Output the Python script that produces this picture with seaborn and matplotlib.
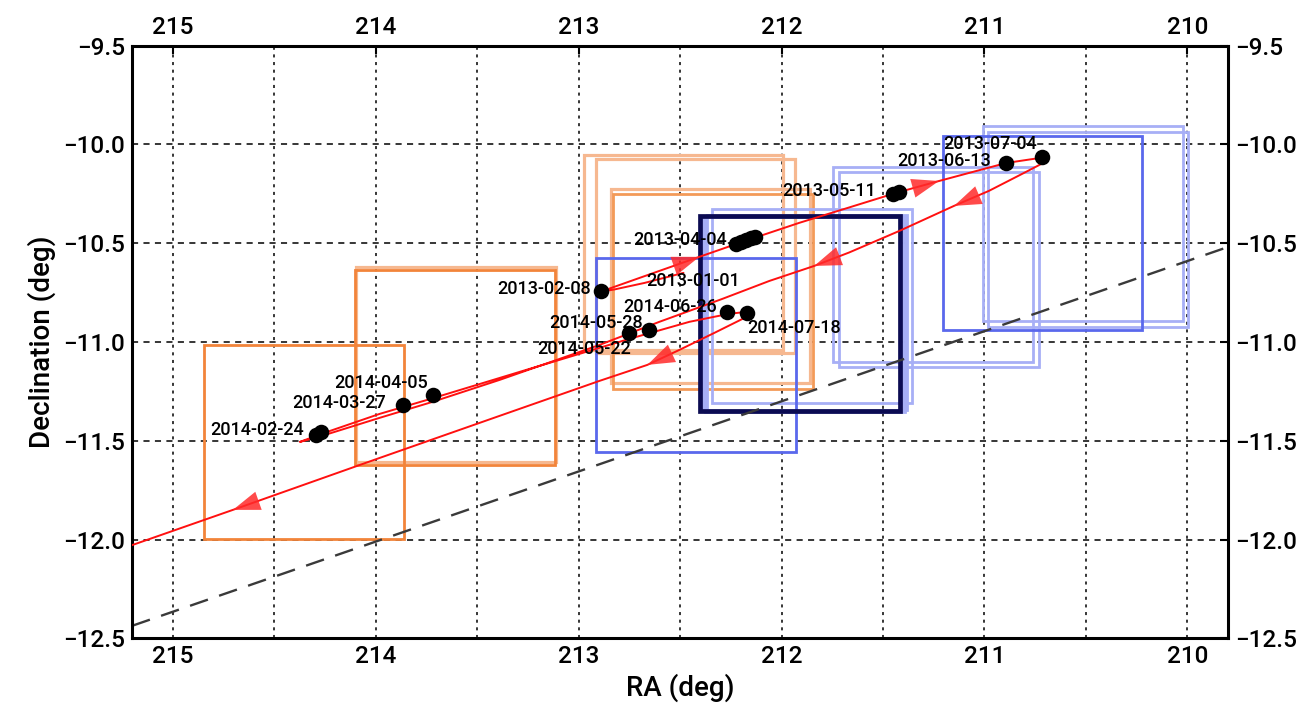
import matplotlib
matplotlib.use("Agg")
import matplotlib.pyplot as plt
from matplotlib.patches import Rectangle
from matplotlib.ticker import MultipleLocator
import pandas as pd
import seaborn as sns

# ---- predicted sky track (RA, Dec in deg), starting 2013-01-01 ----
track_ra = [212.483, 212.675, 212.823, 212.892, 212.838, 212.651, 212.405, 212.178,
            211.913, 211.667, 211.435, 211.224, 210.894, 210.712, 210.682, 210.702,
            210.805, 210.978, 211.150, 211.420, 211.667, 211.839, 212.060, 212.292,
            212.602, 212.897, 213.389, 213.719, 213.980, 214.226, 214.373, 214.275,
            213.980, 213.719, 213.241, 212.749, 212.454, 212.262, 212.178, 212.149,
            212.188, 212.331, 212.503, 212.661, 212.897, 213.389, 213.980, 214.703,
            215.210]
track_dec = [-10.650, -10.701, -10.734, -10.746, -10.726, -10.658, -10.569, -10.488,
             -10.397, -10.319, -10.245, -10.185, -10.094, -10.066, -10.071, -10.089,
             -10.144, -10.235, -10.311, -10.438, -10.547, -10.615, -10.691, -10.782,
             -10.898, -11.015, -11.192, -11.303, -11.384, -11.463, -11.506, -11.468,
             -11.364, -11.285, -11.136, -10.984, -10.898, -10.858, -10.848, -10.853,
             -10.881, -10.954, -11.040, -11.116, -11.197, -11.374, -11.587, -11.850,
             -12.032]
track_start = "2013-01-01"
# track vertices that carry a direction arrow
arrow_tips = [6, 11, 18, 21, 43, 47]

# ---- observed positions ----
obs_date = ["2013-02-08",
            "2013-04-04", "2013-04-04", "2013-04-04", "2013-04-04", "2013-04-04",
            "2013-05-11", "2013-05-11", "2013-06-13", "2013-07-04",
            "2014-02-24", "2014-02-24", "2014-03-27", "2014-04-05",
            "2014-05-22", "2014-05-28", "2014-06-26", "2014-07-18"]
obs_ra = [212.887,
          212.223, 212.198, 212.174, 212.149, 212.129,
          211.450, 211.420, 210.894, 210.717,
          214.294, 214.270, 213.866, 213.719,
          212.749, 212.651, 212.267, 212.168]
obs_dec = [-10.741,
           -10.504, -10.494, -10.483, -10.473, -10.466,
           -10.251, -10.240, -10.094, -10.063,
           -11.470, -11.455, -11.318, -11.268,
           -10.954, -10.939, -10.848, -10.853]

# ---- camera fields (centre RA, Dec) ----
field_ra = [214.354, 213.603, 213.608, 212.483, 212.424, 212.350, 212.338,
            212.420, 211.849, 211.893, 211.883, 211.873, 211.908,
            211.253, 211.224, 210.714, 210.515, 210.492]
field_dec = [-11.506, -11.114, -11.129, -10.547, -10.564, -10.716, -10.744,
             -11.065, -10.817, -10.855, -10.861, -10.851, -10.855,
             -10.607, -10.632, -10.448, -10.400, -10.430]
field_kind = ["orange", "light orange", "orange", "light orange", "light orange",
              "light orange", "mid orange",
              "blue", "light blue", "light blue", "light blue", "light blue", "navy",
              "light blue", "light blue", "blue", "light blue", "light blue"]

# ---- reference great circle ----
ref_ra = [215.2, 209.8]
ref_dec = [-12.437, -10.519]

# ---- styling ----
FIELD_W, FIELD_H = 0.985, 0.985
kind_style = {
    "light orange": dict(color="#f6b890", lw=2.3, z=1),
    "mid orange": dict(color="#f39a58", lw=2.0, z=1.2),
    "orange": dict(color="#f2843a", lw=2.0, z=1.3),
    "light blue": dict(color="#a7aff6", lw=2.0, z=1.5),
    "blue": dict(color="#5a68ec", lw=2.0, z=1.6),
    "navy": dict(color="#0b0b52", lw=3.4, z=1.8),
}
label_offsets = {  # pixel offsets (dx, dy) and alignment
    "2013-01-01": (10, -8, "center"),
    "2013-02-08": (-11, 2, "right"),
    "2013-04-04": (-9, 4, "right"),
    "2013-05-11": (-17, 3, "right"),
    "2013-06-13": (-15, 2, "right"),
    "2013-07-04": (-5, 13, "right"),
    "2014-02-24": (-12, 5, "right"),
    "2014-03-27": (-17, 2, "right"),
    "2014-04-05": (-5, 12, "right"),
    "2014-05-22": (2, -16, "right"),
    "2014-05-28": (-7, 7, "right"),
    "2014-06-26": (-10, 5, "right"),
    "2014-07-18": (0, -15, "left"),
}

sns.set_theme(style="white")
plt.rcParams["font.family"] = ["Roboto", "DejaVu Sans"]
plt.rcParams["font.weight"] = "medium"
plt.rcParams["text.color"] = "black"
plt.rcParams["axes.labelcolor"] = "black"
plt.rcParams["axes.labelweight"] = "medium"

fig = plt.figure(figsize=(13.06, 7.15), dpi=100)
ax = fig.add_axes([0.1011, 0.1073, 0.8392, 0.8288])

# fields
for ra, dec, kind in zip(field_ra, field_dec, field_kind):
    st = kind_style[kind]
    ax.add_patch(Rectangle((ra - FIELD_W / 2, dec - FIELD_H / 2), FIELD_W, FIELD_H,
                           fill=False, edgecolor=st["color"], lw=st["lw"], zorder=st["z"]))

# reference line
ref = pd.DataFrame({"ra": ref_ra, "dec": ref_dec})
sns.lineplot(data=ref, x="ra", y="dec", ax=ax, color="#3a3a3a", lw=1.7,
             sort=False, estimator=None, zorder=2)
ax.lines[-1].set_dashes((8, 5))

# track
track = pd.DataFrame({"ra": track_ra, "dec": track_dec})
sns.lineplot(data=track, x="ra", y="dec", ax=ax, color="#ff1010", lw=1.4,
             sort=False, estimator=None, zorder=3)
for i in arrow_tips:
    ax.annotate("", xy=(track_ra[i], track_dec[i]),
                xytext=(track_ra[i - 1], track_dec[i - 1]),
                arrowprops=dict(arrowstyle="-|>,head_length=0.85,head_width=0.3",
                                mutation_scale=23, color="#ff2a2a", alpha=0.85,
                                lw=0, shrinkA=0, shrinkB=0),
                zorder=4)

# observations
obs = pd.DataFrame({"date": obs_date, "ra": obs_ra, "dec": obs_dec})
sns.scatterplot(data=obs, x="ra", y="dec", ax=ax, color="black", s=125,
                linewidth=0, zorder=5)

# date labels
first = obs.drop_duplicates("date")
label_pts = [(track_start, track_ra[0], track_dec[0])] + list(
    zip(first["date"], first["ra"], first["dec"]))
for date, ra, dec in label_pts:
    dx, dy, ha = label_offsets[date]
    ax.annotate(date, xy=(ra, dec), xytext=(dx, dy), textcoords="offset pixels",
                ha=ha, va="center", fontsize=13, fontweight="medium",
                color="black", zorder=6)

# axes
ax.set_xlim(215.2, 209.8)
ax.set_ylim(-12.5, -9.5)
ax.xaxis.set_major_locator(MultipleLocator(1))
ax.xaxis.set_minor_locator(MultipleLocator(0.5))
ax.yaxis.set_major_locator(MultipleLocator(0.5))
ax.grid(which="both", axis="x", color="black", linestyle=(0, (2, 3)), lw=1.1)
ax.grid(which="major", axis="y", color="black", linestyle=(0, (4, 3.5)), lw=1.1)
ax.set_axisbelow(True)
ax.tick_params(which="major", direction="in", length=6, width=1.5, labelsize=17.5,
               top=True, right=True, labeltop=True, labelright=True, pad=5,
               colors="black")
ax.tick_params(which="minor", length=0)
for sp in ax.spines.values():
    sp.set_visible(True)
    sp.set_color("black")
    sp.set_linewidth(2.2)
ax.set_xlabel("RA (deg)", fontsize=20, labelpad=4)
ax.set_ylabel("Declination (deg)", fontsize=20, labelpad=5)

fig.savefig("out.png", dpi=100, facecolor="white")
